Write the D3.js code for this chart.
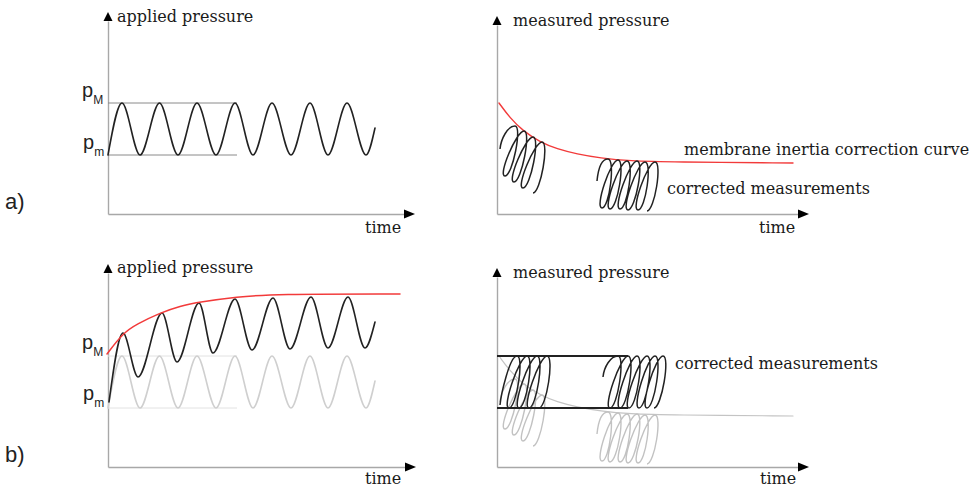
<!DOCTYPE html>
<html>
<head>
<meta charset="utf-8">
<script src="https://cdn.jsdelivr.net/npm/d3@7"></script>
<style>
  body { margin: 0; background: #fff; }
  svg { display: block; }
  .lbl { font-family: "DejaVu Serif", serif; font-size: 16px; fill: #1a1a1a; }
  .sans { font-family: "Liberation Sans", Arial, sans-serif; fill: #222; }
</style>
</head>
<body>
<svg id="fig" width="975" height="490"></svg>
<script>
// ---------------------------------------------------------------
// Data: time and pressure in arbitrary units, measured from each
// panel's origin.
// ---------------------------------------------------------------
const pM = 111;            // maximum applied pressure
const pm = 59;             // minimum applied pressure
const refLineEnd = 129;    // how far the pM / pm guide lines run (time)

// applied oscillation (extrema of the sinusoid)
const appliedTime     = [0, 14, 32, 51.5, 70, 89, 108, 127, 145, 164, 183, 202, 220, 239, 258, 267];
const appliedPressure = [59, 111, 59, 111, 59, 111, 59, 111, 59, 111, 59, 111, 59, 111, 59, 86];

// applied oscillation once the inertia correction is added
const boostedTime     = [1, 15, 30, 54, 69, 91, 105, 127, 144, 165, 182, 203, 220, 240, 257, 267];
const boostedPressure = [65, 134, 90, 154, 105, 164, 114, 168, 117, 169, 118, 170, 119, 170, 119, 145];

// membrane inertia correction (rising, applied side)
const riseTime     = [-1, 15, 29, 52, 72, 92, 129, 165, 292];
const risePressure = [113, 134, 143, 154, 161, 165, 170, 173, 173];

// membrane inertia correction curve (decaying, measured side)
const decayTime     = [2, 13, 26, 43, 60, 80, 103, 133, 173, 296];
const decayPressure = [111, 96, 83, 72, 65, 60, 56, 53, 52, 51];

// measured loops, first burst: start point, loop tops, loop bottoms
const burst1Start   = [3, 65];
const burst1Tops    = [[18, 88], [27, 83], [36, 77], [45, 72]];
const burst1Bottoms = [[8, 38], [17, 32], [26, 26], [36, 21]];

// measured loops, second burst
const burst2Start   = [100, 33];
const burst2Tops    = [[111, 55], [121, 54], [130, 53], [140, 53], [148, 52], [158, 52]];
const burst2Bottoms = [[105, 6], [113, 5], [123, 5], [131, 4], [141, 4], [150, 3]];

// corrected loops (held between pm and pM)
const fixed1Start   = [3, 62];
const fixed1Tops    = [[20, 111], [30, 111], [40, 111], [50, 111]];
const fixed1Bottoms = [[12, 59], [22, 59], [32, 59], [42, 59]];

const fixed2Start   = [106, 90];
const fixed2Tops    = [[121, 111], [131, 111], [140, 111], [150, 111], [158, 111], [166, 111]];
const fixed2Bottoms = [[113, 59], [123, 59], [132, 59], [142, 59], [150, 59], [157, 59]];
const fixedLineEnd  = 131;

// ---------------------------------------------------------------
// Layout
// ---------------------------------------------------------------
const svg = d3.select("#fig");
const COL = { axis: "#a8a8a8", ink: "#222", red: "#f23a3a", ghost: "#cfcfcf", guide: "#8a8a8a" };

function makePanel(ox, oy, xLen, yLen) {
  const x = d3.scaleLinear().domain([0, xLen]).range([ox, ox + xLen]);
  const y = d3.scaleLinear().domain([0, yLen]).range([oy, oy - yLen]);
  const g = svg.append("g");
  // axes: domain line only, arrow heads added by hand
  g.append("g").attr("transform", `translate(0,${oy})`)
    .call(d3.axisBottom(x).tickValues([]).tickSizeOuter(0))
    .call(s => s.select(".domain").attr("stroke", COL.axis).attr("stroke-width", 1.4));
  g.append("g").attr("transform", `translate(${ox},0)`)
    .call(d3.axisLeft(y).tickValues([]).tickSizeOuter(0))
    .call(s => s.select(".domain").attr("stroke", COL.axis).attr("stroke-width", 1.4));
  const xe = x(xLen), ye = y(yLen);
  g.append("path").attr("d", `M${xe},${oy - 4.5}L${xe + 11},${oy}L${xe},${oy + 4.5}Z`).attr("fill", "#000");
  g.append("path").attr("d", `M${ox - 4.5},${ye}L${ox},${ye - 9}L${ox + 4.5},${ye}Z`).attr("fill", "#000");
  return { x, y, g };
}

const aL = makePanel(108, 214, 296, 193);
const aR = makePanel(497, 214, 301, 189);
const bL = makePanel(108, 467, 297, 194);
const bR = makePanel(497, 467, 301, 190);

function series(P, ts, ps, color, width, curve) {
  const pts = ts.map((t, i) => [t, ps[i]]);
  P.g.append("path")
    .attr("d", d3.line().x(d => P.x(d[0])).y(d => P.y(d[1])).curve(curve || d3.curveMonotoneX)(pts))
    .attr("fill", "none").attr("stroke", color).attr("stroke-width", width)
    .attr("stroke-linejoin", "round").attr("stroke-linecap", "round");
}

function hline(P, p, t0, t1, color, width) {
  P.g.append("line")
    .attr("x1", P.x(t0)).attr("x2", P.x(t1))
    .attr("y1", P.y(p)).attr("y2", P.y(p))
    .attr("stroke", color).attr("stroke-width", width);
}

// a chain of leaning loops through the given tops and bottoms
function loops(P, start, tops, bottoms, color, width) {
  const half = 7.5;
  const S = [P.x(start[0]), P.y(start[1])];
  const T = tops.map(d => [P.x(d[0]), P.y(d[1])]);
  const B = bottoms.map(d => [P.x(d[0]), P.y(d[1])]);
  const path = d3.path();
  path.moveTo(S[0], S[1]);
  path.bezierCurveTo(S[0] + 1, S[1] - 10, T[0][0] - half, T[0][1], T[0][0], T[0][1]);
  T.forEach((t, i) => {
    const b = B[i];
    path.bezierCurveTo(t[0] + half, t[1], b[0] + half, b[1], b[0], b[1]);
    if (i + 1 < T.length) {
      const n = T[i + 1];
      path.bezierCurveTo(b[0] - half, b[1], n[0] - half, n[1], n[0], n[1]);
    }
  });
  P.g.append("path").attr("d", path.toString())
    .attr("fill", "none").attr("stroke", color).attr("stroke-width", width);
}

// ---------------- a) left: applied pressure ----------------
hline(aL, pM, 0, refLineEnd, COL.guide, 1);
hline(aL, pm, 0, refLineEnd, COL.guide, 1);
series(aL, appliedTime, appliedPressure, COL.ink, 1.6);

// ---------------- a) right: measured pressure ----------------
series(aR, decayTime, decayPressure, COL.red, 1.4, d3.curveBasis);
loops(aR, burst1Start, burst1Tops, burst1Bottoms, COL.ink, 1.5);
loops(aR, burst2Start, burst2Tops, burst2Bottoms, COL.ink, 1.5);

// ---------------- b) left: applied pressure ----------------
hline(bL, pM, 0, refLineEnd, "#e2e2e2", 1);
hline(bL, pm, 0, refLineEnd, "#e2e2e2", 1);
series(bL, appliedTime, appliedPressure, COL.ghost, 1.6);
series(bL, boostedTime, boostedPressure, COL.ink, 1.6);
series(bL, riseTime, risePressure, COL.red, 1.5, d3.curveBasis);

// ---------------- b) right: measured pressure ----------------
series(bR, decayTime, decayPressure, "#c4c4c4", 1.2, d3.curveBasis);
loops(bR, burst1Start, burst1Tops, burst1Bottoms, "#c2c2c2", 1.4);
loops(bR, burst2Start, burst2Tops, burst2Bottoms, "#c2c2c2", 1.4);
hline(bR, pM, 0, fixedLineEnd, COL.ink, 1.8);
hline(bR, pm, 0, fixedLineEnd, COL.ink, 1.8);
loops(bR, fixed1Start, fixed1Tops, fixed1Bottoms, COL.ink, 1.5);
loops(bR, fixed2Start, fixed2Tops, fixed2Bottoms, COL.ink, 1.5);

// ---------------- labels ----------------
const text = (x, y, s, cls) => svg.append("text").attr("x", x).attr("y", y).attr("class", cls || "lbl").text(s);

text(117, 22, "applied pressure");
text(365, 233, "time");
text(513, 26, "measured pressure");
text(759, 233, "time");
text(684, 155, "membrane inertia correction curve");
text(667, 194, "corrected measurements");

text(117, 273, "applied pressure");
text(365, 484, "time");
text(513, 278, "measured pressure");
text(760, 484, "time");
text(675, 369, "corrected measurements");

// panel tags
svg.append("text").attr("class", "sans").attr("x", 5).attr("y", 209).attr("font-size", 22).text("a)");
svg.append("text").attr("class", "sans").attr("x", 5).attr("y", 462).attr("font-size", 22).text("b)");

// pM / pm markers
function pLabel(x, y, sub) {
  const t = svg.append("text").attr("class", "sans").attr("x", x).attr("y", y).attr("font-size", 20);
  t.append("tspan").text("p");
  t.append("tspan").attr("font-size", 12).attr("dy", 7).text(sub);
}
pLabel(82, 97, "M");
pLabel(83, 149, "m");
pLabel(82, 349, "M");
pLabel(83, 400, "m");
</script>
</body>
</html>
